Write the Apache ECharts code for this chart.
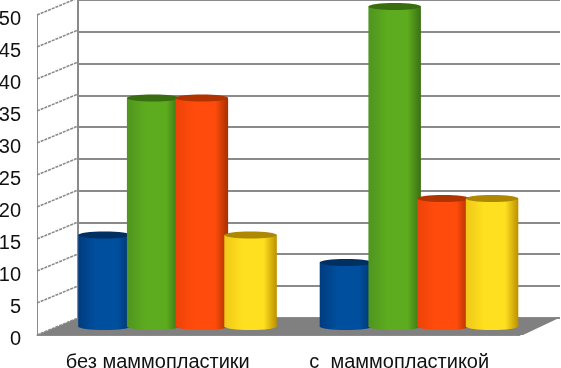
<!DOCTYPE html>
<html><head><meta charset="utf-8">
<style>html,body{margin:0;padding:0;background:#fff}#c{width:561px;height:368px}</style>
<script src="https://cdn.jsdelivr.net/npm/echarts@6/dist/echarts.min.js"></script>
</head><body><div id="c"></div>
<script>
const categories = ['без маммопластики', 'с  маммопластикой'];
const blueValues = [14.3, 10];
const greenValues = [35.7, 50];
const redValues = [35.7, 20];
const yellowValues = [14.3, 20];
const yTicks = [0, 5, 10, 15, 20, 25, 30, 35, 40, 45, 50];

const depth = { x: 41, y: -17 };
const barWidth = 52.5;
const barStep = 48.7;
const ry = 3.5;
const gray = '#8a8a8a';

const palette = [
  { l: '#003c80', m: '#004f9e', r: '#00366e', top: '#002f62' },
  { l: '#4f9420', m: '#5dab1e', r: '#3a7012', top: '#386d10' },
  { l: '#ee4208', m: '#ff4c0c', r: '#a63000', top: '#b03300' },
  { l: '#f0c818', m: '#ffe020', r: '#bc9000', top: '#ad8800' }
];

function cylinder(idx) {
  const c = palette[idx];
  const fill = new echarts.graphic.LinearGradient(0, 0, 1, 0, [
    { offset: 0, color: c.l }, { offset: 0.35, color: c.m },
    { offset: 0.75, color: c.m }, { offset: 1, color: c.r }
  ]);
  return function (params, api) {
    const top = api.coord([api.value(0), api.value(1)]);
    const base = api.coord([api.value(0), 0]);
    const cx = top[0] + depth.x * 0.482 + (idx - 1.5) * barStep;
    const yT = top[1] + depth.y / 2;
    const yB = base[1] + depth.y / 2;
    return {
      type: 'group',
      children: [
        { type: 'ellipse', shape: { cx, cy: yB, rx: barWidth / 2, ry }, style: { fill } },
        { type: 'rect', shape: { x: cx - barWidth / 2, y: yT, width: barWidth, height: yB - yT }, style: { fill } },
        { type: 'ellipse', shape: { cx, cy: yT, rx: barWidth / 2, ry }, style: { fill: c.top } }
      ]
    };
  };
}

function toPairs(values) { return values.map((v, i) => [i, v]); }

const chart = echarts.init(document.getElementById('c'), null, { renderer: 'canvas' });
const seriesValues = [blueValues, greenValues, redValues, yellowValues];
chart.setOption({
  animation: false,
  backgroundColor: '#fff',
  grid: [
    { left: 37, top: 15, width: 483, height: 320, outerBoundsMode: 'none', containLabel: false },
    { left: 78, top: 0, width: 482, height: 317.5, outerBoundsMode: 'none', containLabel: false },
    { left: 37, top: 19, width: 483, height: 320, outerBoundsMode: 'none', containLabel: false }
  ],
  xAxis: [
    { gridIndex: 0, type: 'category', data: categories, boundaryGap: true,
      axisTick: { show: false },
      axisLine: { lineStyle: { color: gray, width: 1 } },
      axisLabel: { color: '#111', fontFamily: 'Liberation Sans', fontSize: 20, margin: 17, interval: 0, hideOverlap: false } },
    { gridIndex: 1, type: 'category', data: categories, show: false },
    { gridIndex: 2, type: 'category', data: categories, show: false }
  ],
  yAxis: [
    { gridIndex: 0, type: 'value', min: 0, max: 50, interval: 5,
      splitLine: { show: false }, axisTick: { show: false }, axisLabel: { show: false },
      axisLine: { show: true, lineStyle: { color: gray, width: 1 } } },
    { gridIndex: 1, type: 'value', min: 0, max: 50, interval: 5,
      splitLine: { show: true, lineStyle: { color: gray, width: 2 } },
      axisTick: { show: false }, axisLabel: { show: false },
      axisLine: { show: true, lineStyle: { color: gray, width: 2 } } },
    { gridIndex: 2, type: 'value', min: 0, max: 50, interval: 5,
      splitLine: { show: false }, axisTick: { show: false }, axisLine: { show: false },
      axisLabel: { color: '#111', fontFamily: 'Liberation Sans', fontSize: 20, margin: 16, hideOverlap: false } }
  ],
  series: [
    { type: 'custom', name: 'floor', xAxisIndex: 0, yAxisIndex: 0, z: 1, silent: true,
      data: [[0, 0]], encode: { x: 0, y: 1 },
      renderItem(params, api) {
        const p = api.coord([0, 0]);
        const left = 37, right = 523;
        return { type: 'polygon', shape: { points: [
          [left, p[1]], [right, p[1]], [right + 36, p[1] + depth.y], [left + depth.x, p[1] + depth.y]
        ] }, style: { fill: '#808080' } };
      } },
    { type: 'custom', name: 'walls', xAxisIndex: 0, yAxisIndex: 0, z: 1, silent: true,
      data: yTicks.map(t => [0, t]), encode: { x: 0, y: 1 },
      renderItem(params, api) {
        const p = api.coord([0, api.value(1)]);
        return { type: 'line', shape: { x1: 37, y1: p[1], x2: 37 + depth.x, y2: p[1] + depth.y },
          style: { stroke: gray, lineWidth: 1.6, lineDash: [3, 1] } };
      } },
    ...seriesValues.map((vals, i) => ({
      type: 'custom', name: 'series' + (i + 1), xAxisIndex: 0, yAxisIndex: 0, z: 3 + i, silent: true,
      data: toPairs(vals), encode: { x: 0, y: 1 }, renderItem: cylinder(i)
    }))
  ]
});
</script></body></html>
